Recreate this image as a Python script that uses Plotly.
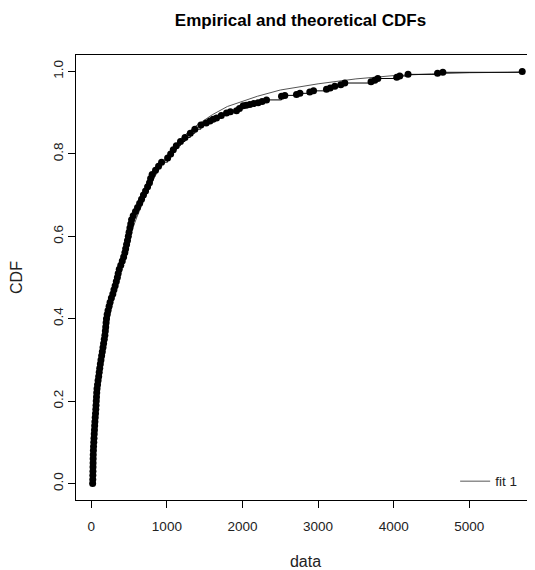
import plotly.graph_objects as go

# empirical CDF points (data value, cumulative probability)
emp_x = [18, 20, 21, 22, 23, 24, 25, 26, 28, 30, 33, 36, 39, 42, 45, 48, 52, 56, 60, 63,
         66, 69, 72, 76, 83, 90, 98, 105, 112, 120, 128, 137, 146, 155, 163, 172, 180, 186,
         191, 196, 201, 210, 222, 236, 249, 266, 285, 300, 316, 331, 345, 356, 370, 390,
         410, 428, 444, 455, 467, 479, 490, 500, 511, 522, 533, 555, 585, 612, 640, 665,
         690, 718, 745, 770, 785, 805, 850, 890, 930, 1010, 1050, 1085, 1125, 1180, 1240,
         1310, 1370, 1450, 1520, 1570, 1612, 1657, 1720, 1789, 1840, 1921, 1960, 2009,
         2050, 2097, 2150, 2207, 2260, 2318, 2516, 2560, 2714, 2760, 2890, 2940, 3111,
         3160, 3221, 3300, 3353, 3700, 3750, 3790, 4040, 4080, 4190, 4580, 4650, 5700]
emp_y = [0.000, 0.010, 0.020, 0.030, 0.040, 0.050, 0.060, 0.070, 0.080, 0.090, 0.100,
         0.110, 0.120, 0.130, 0.140, 0.150, 0.160, 0.170, 0.180, 0.190, 0.200, 0.210,
         0.220, 0.230, 0.240, 0.250, 0.260, 0.270, 0.280, 0.290, 0.300, 0.310, 0.320,
         0.330, 0.340, 0.350, 0.360, 0.370, 0.380, 0.390, 0.400, 0.410, 0.420, 0.430,
         0.440, 0.450, 0.460, 0.470, 0.480, 0.490, 0.500, 0.510, 0.520, 0.530, 0.540,
         0.550, 0.560, 0.570, 0.580, 0.590, 0.600, 0.610, 0.620, 0.630, 0.640, 0.650,
         0.660, 0.670, 0.680, 0.690, 0.700, 0.710, 0.720, 0.730, 0.740, 0.750, 0.760,
         0.770, 0.780, 0.790, 0.800, 0.810, 0.820, 0.830, 0.840, 0.850, 0.860, 0.870,
         0.875, 0.880, 0.884, 0.887, 0.893, 0.899, 0.902, 0.905, 0.910, 0.917, 0.918,
         0.920, 0.922, 0.924, 0.927, 0.931, 0.940, 0.942, 0.944, 0.947, 0.950, 0.953,
         0.957, 0.960, 0.964, 0.968, 0.972, 0.975, 0.979, 0.983, 0.986, 0.989, 0.993,
         0.996, 0.998, 1.000]

# fitted (theoretical) CDF
fit_x = [0, 10, 25, 50, 100, 150, 200, 300, 400, 500, 600, 700, 800, 900, 1000, 1200,
         1400, 1600, 1800, 2000, 2200, 2500, 3000, 3500, 4000, 4500, 5000, 5500, 5700]
fit_y = [0.0, 0.05, 0.09, 0.15, 0.23, 0.30, 0.365, 0.46, 0.535, 0.595, 0.645, 0.69,
         0.73, 0.765, 0.795, 0.84, 0.87, 0.895, 0.915, 0.928, 0.940, 0.955, 0.970,
         0.982, 0.990, 0.994, 0.997, 0.998, 0.999]

font = "Liberation Sans, Arial, sans-serif"

# the page body adds an 8px margin, so the figure is drawn 8px smaller
W, H = 527, 562

fig = go.Figure()
fig.add_trace(go.Scatter(x=fit_x, y=fit_y, mode="lines", name="fit 1",
                         line=dict(color="#555555", width=1)))
fig.add_trace(go.Scatter(x=emp_x, y=emp_y, mode="lines+markers", showlegend=False,
                         line=dict(color="black", width=1, shape="hv"),
                         marker=dict(color="black", size=7)))

fig.update_layout(
    width=W, height=H,
    margin=dict(l=68, r=0, t=47, b=70, autoexpand=False),
    paper_bgcolor="white", plot_bgcolor="white",
    font=dict(family=font, size=13.5, color="#222"),
    title=dict(text="<b>Empirical and theoretical CDFs</b>", x=292.5 / W, xanchor="center",
               y=1 - 12 / H, yanchor="middle", font=dict(size=17, color="black")),
    legend=dict(x=0.972, xanchor="right", y=0.007, yanchor="bottom", bgcolor="rgba(0,0,0,0)",
                font=dict(size=13.5), itemwidth=30),
)
fig.update_xaxes(range=[-202, 5869], showgrid=False, zeroline=False, automargin=False,
                 showline=True, mirror=True, linecolor="black", linewidth=1,
                 ticks="outside", ticklen=7, tickcolor="black", ticklabelstandoff=7,
                 tickvals=[0, 1000, 2000, 3000, 4000, 5000],
                 title=dict(text="data", standoff=23))
fig.update_yaxes(range=[-0.04, 1.04], showgrid=False, zeroline=False, automargin=False,
                 showline=True, linecolor="black", linewidth=1,
                 ticks="outside", ticklen=7, tickcolor="black",
                 tickvals=[0, 0.2, 0.4, 0.6, 0.8, 1.0],
                 ticktext=["0.0", "0.2", "0.4", "0.6", "0.8", "1.0"],
                 tickangle=-90, title=dict(text="CDF", standoff=23))

fig.write_html("out.html")
